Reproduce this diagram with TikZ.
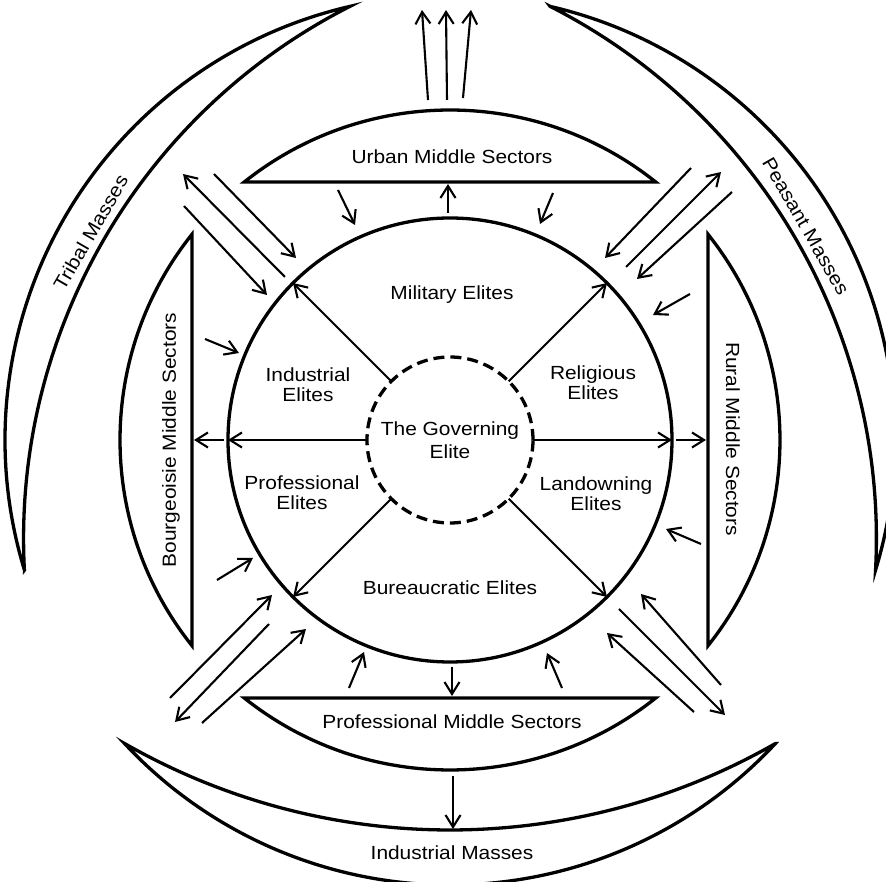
\documentclass[tikz,border=0pt]{standalone}
\usepackage{fontspec}
\setmainfont{Liberation Sans}[FakeStretch=1.1]
\usetikzlibrary{arrows.meta}

\tikzset{
  lbl/.style={font=\fontsize{19}{20}\selectfont, align=center, inner sep=0pt},
  arr/.style={line width=2.1pt, -{Straight Barb[length=12pt,width=15pt,line width=2.1pt]}},
  outline/.style={line width=3.3pt, line join=miter, miter limit=20},
}

\begin{document}
\begin{tikzpicture}[x=1pt, y=1pt]
  \useasboundingbox (-450,-442) rectangle (436,440);

  % Masses -- crescents on the outside
  \draw[outline] (197:445) arc[start angle=197, end angle=103, radius=445]
    arc[start angle=116.96, end angle=183.04, radius=597] -- cycle;
  \draw[outline] (77:445) arc[start angle=77, end angle=-17, radius=445]
    arc[start angle=-3.04, end angle=63.04, radius=597] -- cycle;
  \draw[outline] (317:445) arc[start angle=317, end angle=223, radius=445]
    arc[start angle=240.23, end angle=299.77, radius=655.5] -- cycle;

  \node[lbl, rotate=60] (tribal) at (150:415) {Tribal Masses};
  \node[lbl, rotate=-60] (peasant) at (31:415) {Peasant Masses};
  \node[lbl] (indmass) at (2,-413) {Industrial Masses};

  % Middle sectors -- circular segments
  \draw[outline] (51.44:330) arc[start angle=51.44, end angle=128.56, radius=330] -- cycle;
  \draw[outline] (141.44:330) arc[start angle=141.44, end angle=218.56, radius=330] -- cycle;
  \draw[outline] (231.44:330) arc[start angle=231.44, end angle=308.56, radius=330] -- cycle;
  \draw[outline] (-38.56:330) arc[start angle=-38.56, end angle=38.56, radius=330] -- cycle;

  \node[lbl] (urban) at (2,283) {Urban Middle Sectors};
  \node[lbl, rotate=90] (bourg) at (-279,0) {Bourgeoisie Middle Sectors};
  \node[lbl] (profms) at (2,-282) {Professional Middle Sectors};
  \node[lbl, rotate=-90] (rural) at (283,1) {Rural Middle Sectors};

  % Elites circle and governing elite
  \node[circle, draw, line width=3.3pt, minimum size=444pt, inner sep=0pt, outer sep=0pt] (elite) at (0,0) {};
  \node[circle, draw, line width=3.3pt, dash pattern=on 11pt off 6pt, minimum size=166pt,
    inner sep=0pt, outer sep=0pt, font=\fontsize{19}{23}\selectfont, align=center] (gov) at (0,0) {The Governing\\Elite};

  \node[lbl] (military) at (2,145) {Military Elites};
  \node[lbl] (industrial) at (-142,55) {Industrial\\Elites};
  \node[lbl] (religious) at (143,57) {Religious\\Elites};
  \node[lbl] (professional) at (-148,-53) {Professional\\Elites};
  \node[lbl] (landowning) at (146,-54) {Landowning\\Elites};
  \node[lbl] (bureau) at (0,-148) {Bureaucratic Elites};

  % Spokes from the governing elite
  \draw[arr] (gov.135) -- (elite.135);
  \draw[arr] (gov.45) -- (elite.45);
  \draw[arr] (gov.225) -- (elite.225);
  \draw[arr] (gov.315) -- (elite.315);
  \draw[arr] (gov.180) -- (elite.180);
  \draw[arr] (gov.0) -- (elite.0);

  % Elites to middle sectors
  \draw[arr] (-226,0) -- (-256,0);
  \draw[arr] (226,0) -- (256,0);
  \draw[arr] (-2,227) -- (-2,256);
  \draw[arr] (2,-227) -- (2,-256);

  % Middle sectors to elites
  \draw[arr] (-112,250) -- (-95,215);
  \draw[arr] (103,247) -- (90,216);
  \draw[arr] (-101,-248) -- (-86,-212);
  \draw[arr] (112,-248) -- (97,-213);
  \draw[arr] (-245,101) -- (-211,87);
  \draw[arr] (-233,-140) -- (-197,-118);
  \draw[arr] (240,146) -- (203,125);
  \draw[arr] (251,-104) -- (216,-89);

  % Outward from urban and professional sectors
  \draw[arr] (-22,340) -- (-28,430);
  \draw[arr] (-3,340) -- (-4,430);
  \draw[arr] (13,342) -- (21,430);
  \draw[arr] (3,-336) -- (3,-389);

  % Corner arrows between masses and elites
  \draw[arr] (-165,163) -- (-267,266);
  \draw[arr] (-236,266) -- (-154,182);
  \draw[arr] (-266,234) -- (-183,145);

  \draw[arr] (176,173) -- (271,268);
  \draw[arr] (241,272) -- (155,182);
  \draw[arr] (282,248) -- (187,161);

  \draw[arr] (-181,-184) -- (-275,-282);
  \draw[arr] (-280,-258) -- (-178,-155);
  \draw[arr] (-248,-283) -- (-144,-189);

  \draw[arr] (169,-169) -- (275,-275);
  \draw[arr] (271,-245) -- (191,-154);
  \draw[arr] (244,-272) -- (157,-193);
\end{tikzpicture}
\end{document}
